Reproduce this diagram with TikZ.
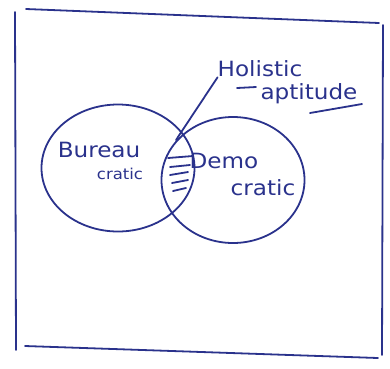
\documentclass[tikz,border=0pt]{standalone}
\usepackage{fontspec}
\setmainfont{DejaVu Sans}[FakeStretch=1.1]
\usetikzlibrary{shapes.geometric}
\definecolor{inkblue}{RGB}{42,50,140}

\begin{document}
\begin{tikzpicture}[
  x=1pt, y=-1pt,
  ink/.style={draw=inkblue, line width=1.8pt, line cap=round, line join=round},
  set/.style={ellipse, ink},
  hand/.style={text=inkblue, font=\fontsize{21}{23}\selectfont, inner sep=0pt}
]
\useasboundingbox (0,0) rectangle (390,368);
% sheet frame
\draw[ink] (15,12) -- (16,350);
\draw[ink] (26,9) -- (379,23);
\draw[ink] (383,25) -- (382,355);
\draw[ink] (25,346) -- (378,358);
% the two sets
\node[set, minimum width=153, minimum height=127] (bur) at (118,168) {};
\node[set, minimum width=143, minimum height=126] (dem) at (233,180) {};
\node[hand] (burA) at (99,150) {Bureau};
\node[hand, font=\fontsize{15}{17}\selectfont] (burB) at (120,174) {cratic};
\node[hand] (demA) at (224,161) {Demo};
\node[hand] (demB) at (263,188) {cratic};
% overlap, hatched
\draw[ink] (168,158) -- (193,156);
\draw[ink] (170,167) -- (190,165);
\draw[ink] (170,175) -- (188,172);
\draw[ink] (172,183) -- (188,180);
\draw[ink] (173,191) -- (186,188);
% label for the overlap
\node[hand] (hol) at (260,69) {Holistic};
\node[hand] (apt) at (309,94) {aptitude};
\coordinate (lens) at (176,140);
\draw[ink] (hol.south west) -- (lens);
\draw[ink] (237,88) -- (256,87);
\draw[ink] (310,113) -- (362,104);
\end{tikzpicture}
\end{document}
